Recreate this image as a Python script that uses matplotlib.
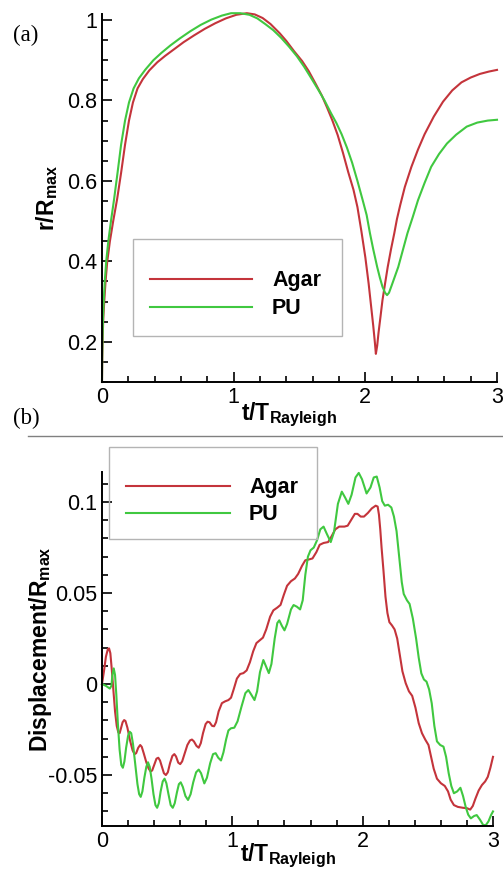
import matplotlib
matplotlib.use('Agg')
import matplotlib.pyplot as plt
from matplotlib.ticker import MultipleLocator, FixedLocator, FixedFormatter
from matplotlib.lines import Line2D
from matplotlib.patches import Rectangle

plt.rcParams['font.family'] = ['Liberation Sans', 'DejaVu Sans']
plt.rcParams['mathtext.fontset'] = 'custom'
plt.rcParams['mathtext.rm'] = 'Liberation Sans'
plt.rcParams['mathtext.bf'] = 'Liberation Sans:bold'
plt.rcParams['axes.unicode_minus'] = False

# ---- data, panel (a): r/Rmax vs t/T_Rayleigh
t_a_agar = [0, 0.002, 0.005, 0.01, 0.017, 0.027, 0.04, 0.06, 0.085, 0.115, 0.145, 0.175, 0.205, 0.235,
            0.27, 0.31, 0.36, 0.42, 0.48, 0.55, 0.62, 0.7, 0.78, 0.86, 0.94, 1.02, 1.1, 1.16, 1.22,
            1.28, 1.35, 1.4, 1.46, 1.52, 1.57, 1.62, 1.67, 1.71, 1.75, 1.79, 1.83, 1.87, 1.91, 1.94,
            1.97, 2.0, 2.025, 2.045, 2.06, 2.072, 2.08, 2.09, 2.1, 2.115, 2.13, 2.15, 2.17, 2.195,
            2.22, 2.24, 2.265, 2.3, 2.35, 2.4, 2.45, 2.52, 2.59, 2.66, 2.73, 2.8, 2.87, 2.94, 3.0]
r_a_agar = [0.1, 0.16, 0.21, 0.26, 0.3, 0.35, 0.4, 0.45, 0.5, 0.555, 0.62, 0.69, 0.75, 0.795,
            0.83, 0.853, 0.875, 0.895, 0.911, 0.928, 0.945, 0.962, 0.978, 0.992, 1.004, 1.013, 1.017, 1.014, 1.005,
            0.99, 0.967, 0.948, 0.922, 0.898, 0.873, 0.843, 0.812, 0.782, 0.75, 0.714, 0.67, 0.622, 0.578, 0.535,
            0.475, 0.41, 0.345, 0.285, 0.24, 0.2, 0.17, 0.19, 0.222, 0.262, 0.303, 0.345, 0.386, 0.43,
            0.47, 0.505, 0.54, 0.585, 0.635, 0.678, 0.716, 0.76, 0.797, 0.825, 0.845, 0.857, 0.866, 0.872, 0.876]

t_a_pu = [0, 0.0015, 0.004, 0.008, 0.013, 0.021, 0.032, 0.048, 0.068, 0.092, 0.118, 0.145, 0.175, 0.205,
          0.24, 0.28, 0.33, 0.39, 0.45, 0.52, 0.59, 0.67, 0.75, 0.83, 0.91, 0.98, 1.05, 1.12, 1.18,
          1.24, 1.3, 1.36, 1.42, 1.48, 1.535, 1.59, 1.64, 1.69, 1.74, 1.78, 1.82, 1.86, 1.9, 1.94,
          1.98, 2.01, 2.035, 2.06, 2.09, 2.11, 2.13, 2.15, 2.165, 2.18, 2.2, 2.25, 2.32, 2.36,
          2.4, 2.45, 2.5, 2.56, 2.62, 2.69, 2.77, 2.85, 2.93, 3.0]
r_a_pu = [0.1, 0.16, 0.21, 0.26, 0.3, 0.35, 0.4, 0.45, 0.5, 0.555, 0.62, 0.69, 0.75, 0.795,
          0.83, 0.855, 0.877, 0.9, 0.918, 0.937, 0.954, 0.972, 0.988, 1.001, 1.011, 1.017, 1.017, 1.013, 1.004,
          0.99, 0.975, 0.956, 0.934, 0.91, 0.884, 0.855, 0.828, 0.8, 0.768, 0.744, 0.716, 0.683, 0.645, 0.6,
          0.552, 0.515, 0.47, 0.43, 0.386, 0.36, 0.337, 0.322, 0.316, 0.322, 0.34, 0.386, 0.47, 0.51,
          0.552, 0.595, 0.635, 0.667, 0.693, 0.715, 0.735, 0.745, 0.75, 0.752]

# ---- data, panel (b): Displacement/Rmax vs t/T_Rayleigh
t_b_agar = [0, 0.015, 0.03, 0.045, 0.054, 0.064, 0.075, 0.088, 0.1, 0.113, 0.125, 0.135, 0.145, 0.158,
            0.17, 0.18, 0.195, 0.215, 0.235, 0.25, 0.262, 0.278, 0.293, 0.305, 0.32, 0.34, 0.358, 0.373,
            0.385, 0.4, 0.418, 0.432, 0.445, 0.46, 0.475, 0.49, 0.505, 0.522, 0.54, 0.555, 0.568, 0.585,
            0.6, 0.615, 0.635, 0.655, 0.675, 0.69, 0.705, 0.725, 0.742, 0.758, 0.775, 0.795, 0.81, 0.825,
            0.845, 0.86, 0.875, 0.895, 0.92, 0.945, 0.97, 0.99, 1.01, 1.035, 1.06, 1.085, 1.11, 1.135,
            1.16, 1.185, 1.21, 1.235, 1.26, 1.29, 1.315, 1.345, 1.37, 1.395, 1.42, 1.45, 1.48, 1.505,
            1.535, 1.56, 1.59, 1.615, 1.645, 1.67, 1.7, 1.735, 1.76, 1.79, 1.82, 1.86, 1.885, 1.915,
            1.94, 1.96, 1.985, 2.01, 2.04, 2.07, 2.1, 2.115, 2.125, 2.135, 2.145, 2.16, 2.175, 2.19,
            2.205, 2.225, 2.245, 2.265, 2.285, 2.305, 2.33, 2.355, 2.38, 2.405, 2.43, 2.455, 2.48, 2.505,
            2.525, 2.545, 2.57, 2.6, 2.63, 2.655, 2.675, 2.7, 2.73, 2.77, 2.8, 2.825, 2.845, 2.865,
            2.89, 2.915, 2.94, 2.96, 2.98, 3.0]
d_b_agar = [0, 0.007, 0.015, 0.0192, 0.0196, 0.017, 0.008, -0.004, -0.015, -0.023, -0.0265, -0.027, -0.0245, -0.021,
            -0.0198, -0.0203, -0.024, -0.031, -0.0365, -0.0385, -0.038, -0.035, -0.0335, -0.0345, -0.038, -0.043, -0.0465, -0.048,
            -0.0475, -0.0445, -0.041, -0.0405, -0.042, -0.0455, -0.049, -0.050, -0.0485, -0.0435, -0.0395, -0.0385, -0.0398, -0.0432,
            -0.044, -0.0425, -0.038, -0.0335, -0.031, -0.0305, -0.0315, -0.034, -0.035, -0.0325, -0.027, -0.022, -0.0207, -0.021,
            -0.023, -0.0232, -0.021, -0.015, -0.0105, -0.0095, -0.0088, -0.0075, -0.003, 0.003, 0.0055, 0.006, 0.0075, 0.012,
            0.018, 0.0225, 0.024, 0.0255, 0.03, 0.037, 0.0405, 0.042, 0.0435, 0.049, 0.054, 0.0565, 0.058, 0.0605,
            0.065, 0.068, 0.0685, 0.069, 0.0725, 0.0765, 0.0775, 0.078, 0.081, 0.085, 0.0865, 0.0865, 0.087, 0.0905,
            0.0935, 0.0935, 0.092, 0.092, 0.094, 0.0965, 0.098, 0.0975, 0.093, 0.085, 0.075, 0.062, 0.048, 0.039,
            0.034, 0.0322, 0.03, 0.025, 0.016, 0.007, 0.0005, -0.004, -0.0065, -0.013, -0.0215, -0.027, -0.0305, -0.0335,
            -0.04, -0.0465, -0.052, -0.0545, -0.056, -0.059, -0.0635, -0.0665, -0.0675, -0.068, -0.0682, -0.069, -0.067, -0.063,
            -0.0585, -0.0555, -0.0535, -0.051, -0.046, -0.040]

t_b_pu = [0, 0.03, 0.06, 0.072, 0.08, 0.09, 0.1, 0.11, 0.122, 0.135, 0.148, 0.16, 0.172, 0.185,
          0.2, 0.212, 0.224, 0.238, 0.255, 0.272, 0.285, 0.297, 0.31, 0.325, 0.34, 0.353, 0.366, 0.38,
          0.395, 0.41, 0.423, 0.436, 0.45, 0.466, 0.48, 0.494, 0.51, 0.527, 0.543, 0.558, 0.575, 0.59,
          0.604, 0.62, 0.64, 0.66, 0.68, 0.7, 0.722, 0.742, 0.76, 0.785, 0.805, 0.83, 0.852, 0.872,
          0.892, 0.913, 0.932, 0.952, 0.97, 0.99, 1.015, 1.04, 1.07, 1.1, 1.123, 1.145, 1.17, 1.19,
          1.212, 1.238, 1.26, 1.28, 1.3, 1.325, 1.345, 1.36, 1.38, 1.4, 1.42, 1.45, 1.47, 1.495,
          1.52, 1.54, 1.56, 1.58, 1.6, 1.625, 1.65, 1.675, 1.7, 1.725, 1.755, 1.78, 1.81, 1.84,
          1.865, 1.89, 1.915, 1.945, 1.97, 1.995, 2.03, 2.06, 2.085, 2.108, 2.13, 2.15, 2.17, 2.195,
          2.22, 2.24, 2.26, 2.28, 2.3, 2.315, 2.34, 2.36, 2.385, 2.41, 2.43, 2.45, 2.47, 2.49,
          2.51, 2.53, 2.55, 2.57, 2.595, 2.62, 2.64, 2.66, 2.68, 2.7, 2.725, 2.75, 2.77, 2.79,
          2.81, 2.83, 2.855, 2.875, 2.9, 2.925, 2.945, 2.965, 2.985, 3.0]
d_b_pu = [0, -0.001, -0.0025, -0.001, 0.005, 0.0086, 0.005, -0.006, -0.022, -0.036, -0.0445, -0.046, -0.0425, -0.035,
          -0.0285, -0.0262, -0.027, -0.033, -0.044, -0.055, -0.0605, -0.062, -0.059, -0.0515, -0.0455, -0.043, -0.0455, -0.052,
          -0.0605, -0.0665, -0.068, -0.0655, -0.059, -0.0535, -0.052, -0.0545, -0.0605, -0.0665, -0.068, -0.0655, -0.0595, -0.055,
          -0.054, -0.0565, -0.0615, -0.0637, -0.0605, -0.054, -0.0485, -0.047, -0.049, -0.0546, -0.0515, -0.0435, -0.0385, -0.038,
          -0.0405, -0.042, -0.0375, -0.0305, -0.0255, -0.0243, -0.024, -0.0205, -0.0125, -0.005, -0.0033, -0.0058, -0.0088, -0.004,
          0.0065, 0.0132, 0.0095, 0.006, 0.011, 0.025, 0.0335, 0.035, 0.032, 0.0295, 0.033, 0.041, 0.0434, 0.0425,
          0.041, 0.046, 0.06, 0.07, 0.0735, 0.075, 0.079, 0.085, 0.0865, 0.0825, 0.078, 0.0835, 0.099, 0.1057,
          0.1025, 0.099, 0.104, 0.1135, 0.116, 0.1125, 0.1047, 0.108, 0.1135, 0.114, 0.108, 0.1005, 0.098, 0.0985,
          0.097, 0.092, 0.084, 0.07, 0.056, 0.0495, 0.046, 0.044, 0.036, 0.025, 0.0145, 0.0059, 0.0025, 0.0013,
          -0.003, -0.0106, -0.023, -0.0315, -0.0335, -0.0344, -0.04, -0.049, -0.056, -0.06, -0.059, -0.057, -0.0615, -0.0674,
          -0.0718, -0.0738, -0.0725, -0.072, -0.0745, -0.0775, -0.0775, -0.0755, -0.072, -0.070]

x_ticks = [0, 1, 2, 3]
x_labels = ['0', '1', '2', '3']
ya_ticks = [0.2, 0.4, 0.6, 0.8, 1.0]
ya_labels = ['0.2', '0.4', '0.6', '0.8', '1']
yb_ticks = [-0.05, 0, 0.05, 0.1]
yb_labels = ['-0.05', '0', '0.05', '0.1']
names = ['Agar', 'PU']
colors = ['#c4343b', '#40c840']

W, H = 503, 873
fig = plt.figure(figsize=(W / 100, H / 100), dpi=100)


def fx(px):
    return px / W


def fy(py):
    return 1 - py / H


ax1 = fig.add_axes([fx(102), fy(382), (497 - 102) / W, (382 - 14) / H])
ax2 = fig.add_axes([fx(102), fy(826), (493 - 102) / W, (826 - 472) / H])


def style(ax, yt, yl, yminor):
    for s in ['top', 'right']:
        ax.spines[s].set_visible(False)
    for s in ['left', 'bottom']:
        ax.spines[s].set_linewidth(1.4)
    ax.tick_params(which='both', direction='in', top=False, right=False, width=1.2,
                   labelsize=15.5, pad=3.5)
    ax.tick_params(which='major', length=7)
    ax.tick_params(which='minor', length=4)
    ax.xaxis.set_major_locator(FixedLocator(x_ticks))
    ax.xaxis.set_major_formatter(FixedFormatter(x_labels))
    ax.xaxis.set_minor_locator(MultipleLocator(0.2))
    ax.yaxis.set_major_locator(FixedLocator(yt))
    ax.yaxis.set_major_formatter(FixedFormatter(yl))
    ax.yaxis.set_minor_locator(MultipleLocator(yminor))


# panel (a)
ax1.plot(t_a_agar, r_a_agar, color=colors[0], lw=1.5, clip_on=False)
ax1.plot(t_a_pu, r_a_pu, color=colors[1], lw=1.5, clip_on=False)
ax1.set_xlim(0, 3)
ax1.set_ylim(0.1, 1.015)
style(ax1, ya_ticks, ya_labels, 0.05)
ax1.set_xlabel(r'$\mathbf{t/T}_{\mathbf{Rayleigh}}$', fontsize=16.5)
ax1.xaxis.set_label_coords(0.473, -0.05)
ax1.set_ylabel(r'$\mathbf{r/R}_{\mathbf{max}}$', fontsize=16.5)
ax1.yaxis.set_label_coords(-0.106, 0.5)

# panel (b)
ax2.plot(t_b_agar, d_b_agar, color=colors[0], lw=1.5, clip_on=False)
ax2.plot(t_b_pu, d_b_pu, color=colors[1], lw=1.5, clip_on=False)
ax2.set_xlim(0, 3)
ax2.set_ylim(-0.078, 0.1165)
style(ax2, yb_ticks, yb_labels, 0.01)
ax2.set_xlabel(r'$\mathbf{t/T}_{\mathbf{Rayleigh}}$', fontsize=16.5)
ax2.xaxis.set_label_coords(0.476, -0.045)
ax2.set_ylabel(r'$\mathbf{Displacement/R}_{\mathbf{max}}$', fontsize=16.5)
ax2.yaxis.set_label_coords(-0.122, 0.5)


def legend(box, rows, line_x, text_x):
    x0, y0, x1, y1 = box
    fig.add_artist(Rectangle((fx(x0), fy(y1)), fx(x1) - fx(x0), fy(y0) - fy(y1),
                             transform=fig.transFigure, fill=False, edgecolor='#b4b4b4', lw=1))
    for (yl, yb), name, c in zip(rows, names, colors):
        fig.add_artist(Line2D([fx(line_x[0]), fx(line_x[1])], [fy(yl), fy(yl)],
                              transform=fig.transFigure, color=c, lw=1.5))
        fig.text(fx(text_x), fy(yb), name, fontsize=15.5, fontweight='bold', va='baseline')


legend((133, 239, 342, 336), [(279, 286), (307, 314)], (150, 252), 272)
legend((109, 447, 317, 539), [(486, 493), (513, 520)], (126, 230), 249)

fig.text(fx(13), fy(35), '(a)', family='Liberation Serif', fontsize=16.5, va='center')
fig.text(fx(13), fy(418), '(b)', family='Liberation Serif', fontsize=16.5, va='center')
fig.add_artist(Line2D([fx(28), 1.0], [fy(436), fy(436)], transform=fig.transFigure,
                      color='#808080', lw=1))

fig.savefig('out.png', dpi=100)
